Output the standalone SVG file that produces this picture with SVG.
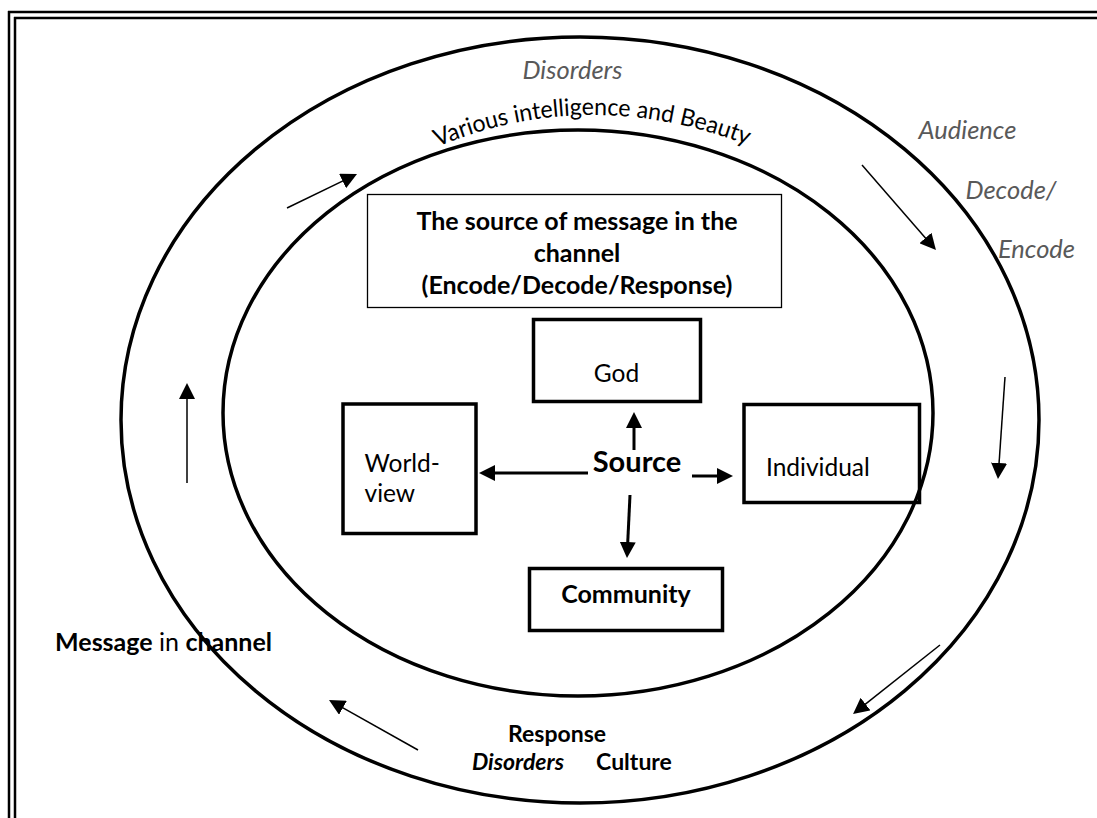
<svg xmlns="http://www.w3.org/2000/svg" width="1097" height="818" viewBox="0 0 1097 818">
<style>
text{font-family:Lato,"Open Sans","Liberation Sans",sans-serif;fill:#000}
.r{font-size:24.5px}
.bb{font-size:25px;font-weight:bold}
.gi{font-style:italic;fill:#595959;font-size:25.5px}
.box{fill:none;stroke:#000;stroke-width:3.5}
.ring{fill:none;stroke:#000;stroke-width:3.5}
.thin{stroke:#000;stroke-width:1.5;fill:none;marker-end:url(#ah)}
.thick{stroke:#000;stroke-width:3;fill:none;marker-end:url(#ah)}
.border{stroke:#000;stroke-width:2.5}
.sm{font-size:23px;font-weight:bold}
</style>
<defs>
<marker id="ah" markerUnits="userSpaceOnUse" markerWidth="17" markerHeight="16" refX="1" refY="8" orient="auto">
<path d="M0,0 L16,8 L0,16 z" fill="#000"/>
</marker>
<path id="arcText" d="M 430,150 Q 614,69.5 811.2,174.2"/>
</defs>
<rect width="1097" height="818" fill="#fff"/>
<g id="border">
<line class="border" x1="8" y1="12" x2="1097" y2="12"/>
<line class="border" x1="14" y1="18" x2="1097" y2="18"/>
<line class="border" x1="9" y1="11" x2="9" y2="818"/>
<line class="border" x1="15" y1="17" x2="15" y2="818"/>
</g>
<g id="rings">
<ellipse class="ring" cx="580" cy="420" rx="459" ry="383"/>
<ellipse class="ring" cx="578" cy="413" rx="355" ry="283"/>
</g>
<g id="connectors">
<line class="thin" x1="287" y1="208" x2="343.5" y2="180.6"/>
<line class="thin" x1="862" y1="165" x2="926.1" y2="238.7"/>
<line class="thin" x1="1005" y1="377" x2="999" y2="464"/>
<line class="thin" x1="940" y1="645" x2="864.8" y2="704.7"/>
<line class="thin" x1="418" y1="750" x2="342.1" y2="707.3"/>
<line class="thin" x1="187" y1="483" x2="187" y2="398"/>
<line class="thick" x1="634" y1="450" x2="634" y2="427"/>
<line class="thick" x1="588" y1="473" x2="494" y2="473"/>
<line class="thick" x1="692" y1="476" x2="718" y2="476"/>
<line class="thick" x1="630" y1="495" x2="627.7" y2="543"/>
</g>
<g id="ring-labels">
<text class="gi" x="572.5" y="79" text-anchor="middle">Disorders</text>
<text font-size="24"><textPath href="#arcText" startOffset="8" textLength="318" lengthAdjust="spacingAndGlyphs">Various intelligence and Beauty</textPath></text>
<text class="gi" x="967.5" y="139" text-anchor="middle">Audience</text>
<text class="gi" x="1011" y="199" text-anchor="middle">Decode/</text>
<text class="gi" x="1036.5" y="258" text-anchor="middle">Encode</text>
<text font-size="25" x="272" y="651" text-anchor="end"><tspan font-weight="bold">Message</tspan> in <tspan font-weight="bold">channel</tspan></text>
<text class="sm" x="557" y="742" text-anchor="middle">Response</text>
<text class="sm" x="518" y="770" text-anchor="middle" font-style="italic">Disorders</text>
<text class="sm" x="634" y="770" text-anchor="middle">Culture</text>
</g>
<g id="source-box">
<rect x="367.5" y="194.5" width="414" height="113" fill="none" stroke="#000" stroke-width="1.3"/>
<text class="bb" x="577" y="230" text-anchor="middle">The source of message in the</text>
<text class="bb" x="577" y="262" text-anchor="middle">channel</text>
<text class="bb" x="577" y="294" text-anchor="middle">(Encode/Decode/Response)</text>
</g>
<g id="god">
<rect class="box" x="533.5" y="319.5" width="167" height="82"/>
<text class="r" x="616.5" y="382" text-anchor="middle">God</text>
</g>
<g id="worldview">
<rect class="box" x="343" y="404" width="133" height="129.5"/>
<text class="r" x="364.5" y="472">World-</text>
<text class="r" x="364.5" y="502">view</text>
</g>
<g id="individual">
<rect class="box" x="744" y="404.5" width="175.5" height="98"/>
<text class="r" x="766" y="476">Individual</text>
</g>
<g id="source">
<text font-weight="bold" font-size="29" x="637" y="472" text-anchor="middle">Source</text>
</g>
<g id="community">
<rect class="box" x="529.5" y="568.5" width="193" height="62"/>
<text class="bb" x="626" y="603" text-anchor="middle">Community</text>
</g>
</svg>
